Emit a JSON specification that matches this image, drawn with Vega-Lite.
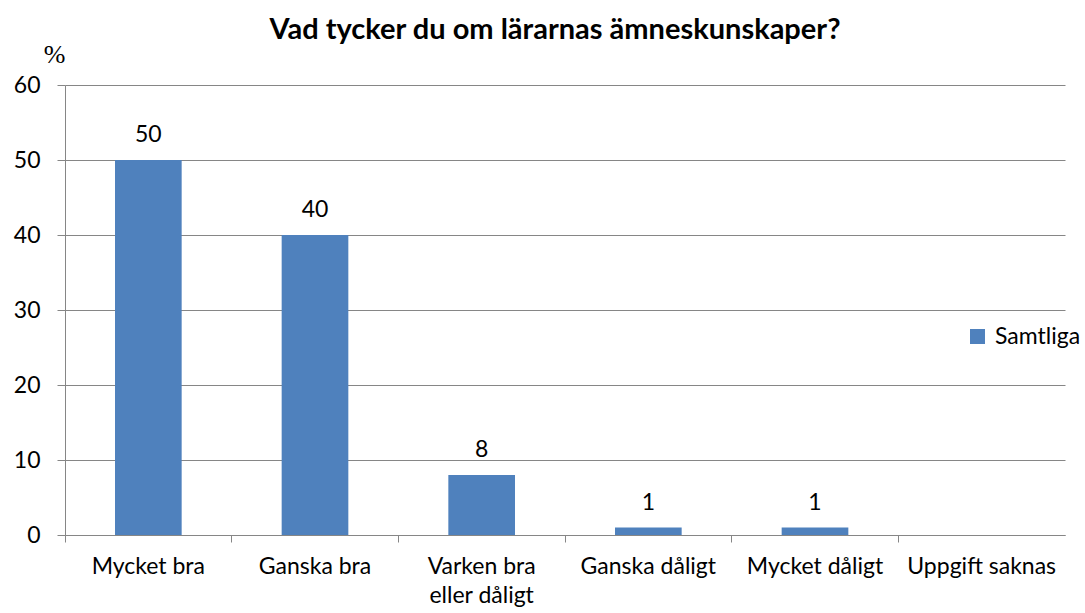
{
  "$schema": "https://vega.github.io/schema/vega-lite/v6.json",
  "autosize": "none",
  "width": 1000,
  "height": 450,
  "padding": {"left": 65, "top": 85, "right": 20, "bottom": 78},
  "background": "white",
  "title": {
    "text": "Vad tycker du om lärarnas ämneskunskaper?",
    "font": "Lato",
    "fontSize": 29,
    "fontWeight": "bold",
    "color": "#000000",
    "anchor": "middle",
    "frame": "group",
    "dx": -10,
    "offset": -4
  },
  "data": {
    "values": [
      {"kategori": "Mycket bra", "procent": 50, "serie": "Samtliga"},
      {"kategori": "Ganska bra", "procent": 40, "serie": "Samtliga"},
      {"kategori": "Varken bra eller dåligt", "procent": 8, "serie": "Samtliga"},
      {"kategori": "Ganska dåligt", "procent": 1, "serie": "Samtliga"},
      {"kategori": "Mycket dåligt", "procent": 1, "serie": "Samtliga"},
      {"kategori": "Uppgift saknas", "procent": 0, "serie": "Samtliga"}
    ]
  },
  "encoding": {
    "x": {
      "field": "kategori",
      "type": "nominal",
      "sort": null,
      "scale": {"paddingInner": 0, "paddingOuter": 0},
      "axis": {
        "title": null,
        "labelAngle": 0,
        "labelFont": "Lato",
        "labelFontSize": 23,
        "labelColor": "#000000",
        "labelPadding": 13,
        "labelLineHeight": 29,
        "labelExpr": "datum.value == 'Varken bra eller dåligt' ? ['Varken bra', 'eller dåligt'] : datum.value",
        "bandPosition": 0,
        "tickSize": 7,
        "tickColor": "#868686",
        "domainColor": "#868686",
        "grid": false
      }
    },
    "y": {
      "field": "procent",
      "type": "quantitative",
      "scale": {"domain": [0, 60]},
      "axis": {
        "title": "%",
        "titleAngle": 0,
        "titleFont": "Liberation Serif",
        "titleFontSize": 26,
        "titleFontWeight": "normal",
        "titleColor": "#000000",
        "titleX": -11,
        "titleY": -23,
        "titleAlign": "center",
        "titleBaseline": "alphabetic",
        "values": [0, 10, 20, 30, 40, 50, 60],
        "labelFont": "Lato",
        "labelFontSize": 23,
        "labelColor": "#000000",
        "labelPadding": 17,
        "tickSize": 8,
        "tickColor": "#868686",
        "domainColor": "#868686",
        "gridColor": "#868686",
        "gridWidth": 1
      }
    }
  },
  "layer": [
    {
      "mark": {"type": "bar", "width": {"band": 0.4}},
      "encoding": {
        "color": {
          "field": "serie",
          "type": "nominal",
          "scale": {"range": ["#4F81BD"]},
          "legend": {
            "title": null,
            "orient": "none",
            "legendX": 901,
            "legendY": 240,
            "symbolType": "square",
            "symbolSize": 225,
            "symbolStrokeWidth": 0,
            "labelFont": "Lato",
            "labelFontSize": 23,
            "labelColor": "#000000",
            "labelOffset": 6
          }
        }
      }
    },
    {
      "transform": [{"filter": "datum.procent > 0"}],
      "mark": {"type": "text", "baseline": "alphabetic", "dy": -18, "font": "Lato", "fontSize": 23, "color": "#000000"},
      "encoding": {"text": {"field": "procent", "type": "quantitative"}}
    }
  ],
  "config": {"view": {"stroke": null}}
}
